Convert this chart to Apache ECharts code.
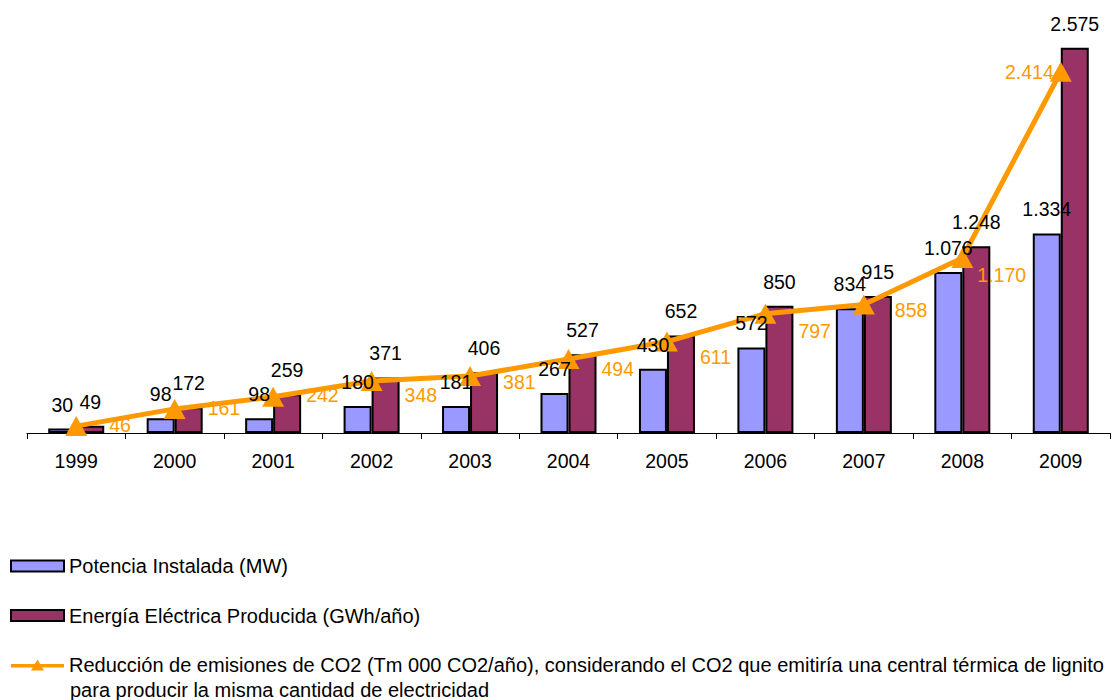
<!DOCTYPE html>
<html><head><meta charset="utf-8">
<script src="https://cdn.jsdelivr.net/npm/echarts@6/dist/echarts.min.js"></script>
<style>html,body{margin:0;padding:0;background:#fff}#c{width:1119px;height:700px}</style>
</head><body><div id="c"></div>
<script>
const years = ['1999','2000','2001','2002','2003','2004','2005','2006','2007','2008','2009'];
const potencia = [30, 98, 98, 180, 181, 267, 430, 572, 834, 1076, 1334];
const energia = [49, 172, 259, 371, 406, 527, 652, 850, 915, 1248, 2575];
const co2 = [46, 161, 242, 348, 381, 494, 611, 797, 858, 1170, 2414];
const seriesNames = ['Potencia Instalada (MW)', 'Energía Eléctrica Producida (GWh/año)',
  'Reducción de emisiones de CO2 (Tm 000 CO2/año), considerando el CO2 que emitiría una central térmica de lignito'];
const co2SecondLine = 'para producir la misma cantidad de electricidad';

// label placement tweaks (style only), per point of the CO2 line
const co2LabelShift = [[0,-1],[0,-1],[0,-2],[0,14],[0,6],[0,10],[0,15],[0,17],[-2,5],[-18,17],[26,0]];

const FONT = 'Arial, "Liberation Sans", sans-serif';
const FS = 19.5;
function fmt(v){ return String(v).replace(/\B(?=(\d{3})+(?!\d))/g, '.'); }

const chart = echarts.init(document.getElementById('c'), null, {renderer:'svg'});
const co2Data = co2.map((v,i)=> i === co2.length-1
  ? {value:v, label:{position:'left', offset:co2LabelShift[i]}}
  : {value:v, label:{offset:co2LabelShift[i]}});

function labelSeries(arr, dx){
  return {type:'scatter', data:arr, symbolSize:0, z:10, silent:true,
    itemStyle:{color:'#000', opacity:1},
    label:{show:true, position:'top', distance:14, offset:[dx,0], color:'#000', opacity:1, fontSize:FS, fontFamily:FONT,
      formatter:p=>fmt(p.value)}};
}

chart.setOption({
  animation:false,
  textStyle:{fontFamily:FONT},
  grid:{left:27, right:9, top:14, bottom:267},
  xAxis:{type:'category', data:years,
    axisLine:{lineStyle:{color:'#000', width:1}},
    axisTick:{show:true, length:6, lineStyle:{color:'#000'}},
    axisLabel:{color:'#000', fontSize:FS, fontFamily:FONT, margin:18}},
  yAxis:{type:'value', min:0, max:2800, show:false, splitLine:{show:false}},
  legend:{orient:'vertical', left:5, top:551, itemGap:29.5, itemWidth:53, itemHeight:11,
    textStyle:{fontSize:20, fontFamily:FONT, color:'#000'},
    data:[
      {name:seriesNames[0], icon:'rect', itemStyle:{color:'#9999FF', borderColor:'#000', borderWidth:2}},
      {name:seriesNames[1], icon:'rect', itemStyle:{color:'#993366', borderColor:'#000', borderWidth:2}},
      {name:seriesNames[2], icon:'path://M0,4.5h53v3.5h-53z M20,11L26.5,0L33,11z',
        itemStyle:{color:'#FF9900', borderWidth:0}}
    ]},
  graphic:[{type:'text', left:70, top:680, style:{text:co2SecondLine, fontSize:20, fontFamily:FONT, fill:'#000'}}],
  series:[
    {name:seriesNames[0], type:'bar', data:potencia, barWidth:28, barGap:'0%',
      itemStyle:{color:'#9999FF', borderColor:'#000', borderWidth:2}},
    {name:seriesNames[1], type:'bar', data:energia, barWidth:28, barGap:'0%',
      itemStyle:{color:'#993366', borderColor:'#000', borderWidth:2}},
    {name:seriesNames[2], type:'line', data:co2Data, z:5,
      symbol:'triangle', symbolSize:[22,20], showAllSymbol:true,
      lineStyle:{color:'#FF9900', width:5},
      itemStyle:{color:'#FF9900'},
      label:{show:true, position:'right', distance:22, color:'#FF9900', fontSize:FS, fontFamily:FONT, formatter:p=>fmt(p.value)}},
    labelSeries(potencia, -14),
    labelSeries(energia, 14)
  ]
});
</script></body></html>
